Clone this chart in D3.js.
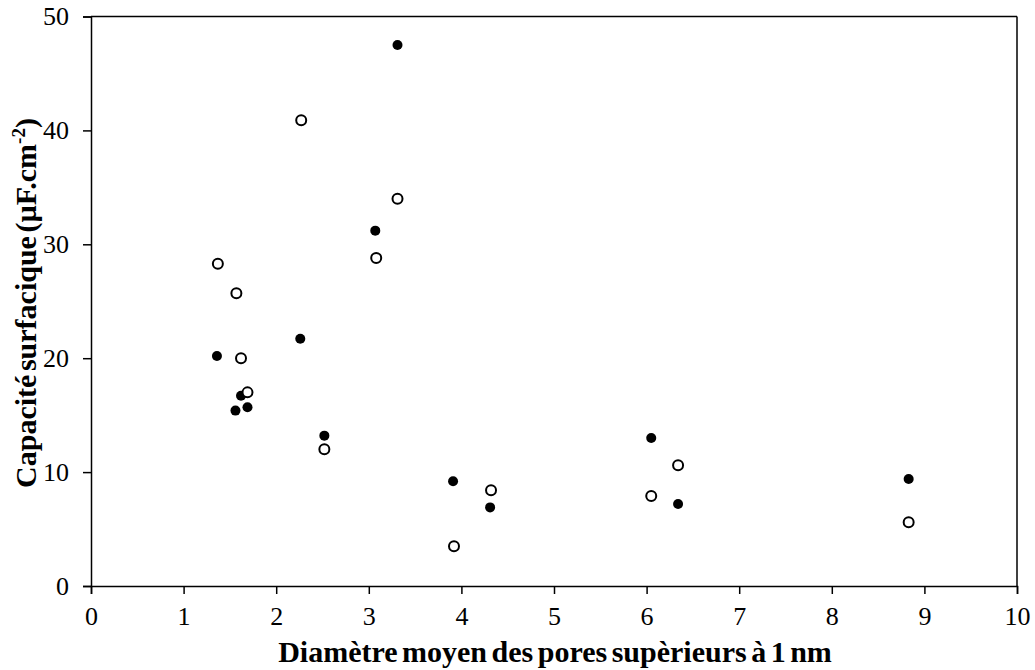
<!DOCTYPE html>
<html><head><meta charset="utf-8">
<script src="https://cdn.jsdelivr.net/npm/d3@7/dist/d3.min.js"></script>
<style>body{margin:0;background:#fff;} svg text{font-family:"Liberation Serif","Times New Roman",serif;}</style>
</head><body>
<svg id="c" width="1035" height="670"></svg>
<script>
const filledX = [1.36, 1.56, 1.62, 1.69, 2.26, 2.52, 3.07, 3.31, 3.91, 4.31, 6.05, 6.34, 8.83];
const filledY = [20.2, 15.4, 16.7, 15.7, 21.7, 13.2, 31.2, 47.5, 9.2, 6.9, 13.0, 7.2, 9.4];
const openX = [1.37, 1.57, 1.62, 1.69, 2.27, 2.52, 3.08, 3.31, 3.92, 4.32, 6.05, 6.34, 8.83];
const openY = [28.3, 25.7, 20.0, 17.0, 40.9, 12.0, 28.8, 34.0, 3.5, 8.4, 7.9, 10.6, 5.6];
const xTicks = [0,1,2,3,4,5,6,7,8,9,10];
const yTicks = [0,10,20,30,40,50];

const svg = d3.select("#c");
const x = d3.scaleLinear().domain([0,10]).range([91,1017]);
const y = d3.scaleLinear().domain([0,50]).range([586,16.5]);

svg.append("line").attr("x1",91).attr("x2",1017).attr("y1",y(50)).attr("y2",y(50)).attr("stroke","#000").attr("stroke-width",1.5);
svg.append("line").attr("x1",1017).attr("x2",1017).attr("y1",y(50)).attr("y2",y(0)).attr("stroke","#000").attr("stroke-width",1.5);

const xa = svg.append("g").attr("transform",`translate(0,${y(0)})`)
  .call(d3.axisBottom(x).tickValues(xTicks).tickSize(8).tickPadding(13).tickFormat(d3.format("d")));
const ya = svg.append("g").attr("transform",`translate(${x(0)},0)`)
  .call(d3.axisLeft(y).tickValues(yTicks).tickSize(8).tickPadding(14).tickFormat(d3.format("d")));
[xa,ya].forEach(a=>{
  a.attr("font-family",null).attr("font-size",null);
  a.selectAll("path").attr("stroke","#000").attr("stroke-width",1.5);
  a.selectAll("line").attr("stroke","#000").attr("stroke-width",1.5);
  a.selectAll("text").attr("font-size",26).attr("fill","#000");
});

svg.append("g").selectAll("circle").data(filledX.map((d,i)=>[d,filledY[i]])).join("circle")
  .attr("cx",d=>x(d[0])).attr("cy",d=>y(d[1])).attr("r",5).attr("fill","#000");
svg.append("g").selectAll("circle").data(openX.map((d,i)=>[d,openY[i]])).join("circle")
  .attr("cx",d=>x(d[0])).attr("cy",d=>y(d[1])).attr("r",5).attr("fill","#fff").attr("stroke","#000").attr("stroke-width",2);

svg.append("text").attr("x",555).attr("y",662).attr("text-anchor","middle")
  .attr("font-size",30).attr("font-weight","bold").attr("word-spacing","-3")
  .text("Diamètre moyen des pores supèrieurs à 1 nm");

const yt = svg.append("text").attr("transform","translate(36,303) rotate(-90)").attr("text-anchor","middle")
  .attr("font-size",30).attr("font-weight","bold").attr("word-spacing","-4");
yt.append("tspan").text("Capacité surfacique (µF.cm");
yt.append("tspan").attr("dy",-11).attr("font-size",19).text("-2");
yt.append("tspan").attr("dy",11).text(")");
</script>
</body></html>
